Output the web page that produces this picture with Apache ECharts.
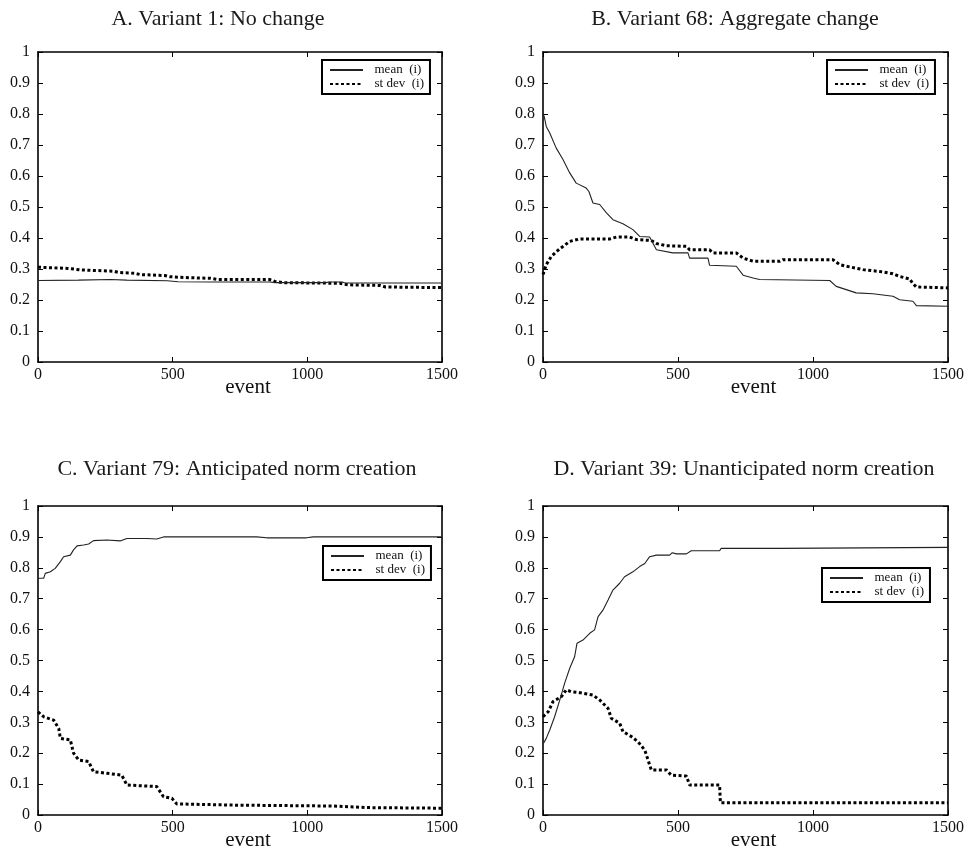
<!DOCTYPE html>
<html><head><meta charset="utf-8">
<script src="https://cdn.jsdelivr.net/npm/echarts@6/dist/echarts.min.js"></script>
<style>html,body{margin:0;padding:0;background:#fff}#c{width:972px;height:850px}</style>
</head><body><div id="c"></div>
<script>
const panelTitles = [
  'A. Variant 1: No change',
  'B. Variant 68: Aggregate change',
  'C. Variant 79: Anticipated norm creation',
  'D. Variant 39: Unanticipated norm creation'
];
const seriesNames = ['mean  (i)', 'st dev  (i)'];
const xAxisName = 'event';
const xMin = 0, xMax = 1500, xStep = 500;
const yMin = 0, yMax = 1, yStep = 0.1;

const aMean = [[0,0.263],[150,0.264],[270,0.266],[330,0.264],[480,0.262],[520,0.259],[640,0.258],[860,0.258],[880,0.256],[1070,0.256],[1080,0.258],[1130,0.258],[1140,0.255],[1500,0.255]];
const aStd = [[0,0.306],[20,0.305],[110,0.302],[160,0.297],[280,0.293],[300,0.289],[360,0.286],[380,0.282],[470,0.279],[490,0.275],[560,0.272],[640,0.27],[670,0.266],[860,0.266],[880,0.26],[910,0.256],[1120,0.254],[1150,0.249],[1270,0.247],[1290,0.242],[1500,0.24]];

const bMean = [[0,0.803],[5,0.79],[12,0.76],[25,0.739],[49,0.69],[74,0.653],[99,0.61],[123,0.577],[160,0.561],[170,0.55],[185,0.513],[210,0.508],[235,0.481],[259,0.459],[296,0.446],[333,0.427],[358,0.405],[395,0.403],[420,0.362],[481,0.352],[537,0.352],[543,0.335],[611,0.335],[617,0.312],[716,0.309],[741,0.28],[778,0.271],[802,0.266],[1062,0.263],[1086,0.244],[1160,0.223],[1222,0.22],[1296,0.212],[1321,0.201],[1370,0.196],[1383,0.182],[1500,0.18]];
const bStd = [[0,0.282],[12,0.314],[31,0.341],[62,0.365],[99,0.389],[136,0.397],[247,0.397],[272,0.403],[321,0.403],[346,0.395],[401,0.392],[420,0.382],[457,0.375],[531,0.373],[543,0.362],[617,0.362],[630,0.352],[716,0.352],[741,0.335],[778,0.325],[877,0.325],[889,0.33],[1074,0.33],[1099,0.314],[1123,0.309],[1185,0.298],[1247,0.292],[1296,0.285],[1321,0.276],[1358,0.268],[1370,0.253],[1383,0.242],[1500,0.239]];

const cMean = [[0,0.766],[21,0.766],[27,0.782],[46,0.787],[64,0.798],[83,0.82],[95,0.836],[120,0.841],[132,0.858],[145,0.871],[169,0.874],[188,0.877],[206,0.888],[256,0.89],[305,0.887],[330,0.895],[404,0.895],[441,0.893],[466,0.9],[503,0.9],[812,0.9],[849,0.897],[997,0.897],[1022,0.9],[1500,0.9]];
const cStd = [[0,0.334],[21,0.318],[58,0.307],[77,0.28],[83,0.248],[120,0.243],[132,0.2],[151,0.178],[188,0.173],[206,0.14],[256,0.135],[311,0.129],[330,0.097],[441,0.092],[466,0.059],[497,0.054],[515,0.036],[725,0.032],[1096,0.029],[1220,0.024],[1500,0.022]];

const dMean = [[2,0.232],[12,0.248],[25,0.275],[43,0.318],[62,0.372],[80,0.426],[99,0.475],[117,0.512],[126,0.556],[148,0.566],[173,0.588],[191,0.599],[204,0.642],[222,0.663],[241,0.696],[259,0.728],[284,0.75],[302,0.771],[333,0.787],[358,0.804],[377,0.814],[395,0.836],[420,0.841],[469,0.841],[479,0.849],[494,0.845],[531,0.845],[549,0.855],[654,0.855],[660,0.863],[877,0.863],[883,0.866],[1500,0.866]];
const dStd = [[0,0.318],[19,0.334],[37,0.367],[68,0.383],[86,0.405],[105,0.399],[136,0.396],[185,0.388],[210,0.372],[241,0.345],[253,0.313],[284,0.297],[296,0.27],[327,0.254],[352,0.237],[377,0.21],[389,0.178],[401,0.146],[457,0.146],[475,0.129],[531,0.126],[543,0.097],[654,0.097],[657,0.04],[1500,0.04]];

const panelData = [[aMean,aStd],[bMean,bStd],[cMean,cStd],[dMean,dStd]];

// layout (pixels)
const grids = [
  {left:38, top:52, width:404, height:310, outerBoundsMode:'none', containLabel:false},
  {left:543, top:52, width:405, height:310, outerBoundsMode:'none', containLabel:false},
  {left:38, top:506, width:404, height:309, outerBoundsMode:'none', containLabel:false},
  {left:543, top:506, width:405, height:309, outerBoundsMode:'none', containLabel:false}
];
const titlePos = [[218,19],[735,19],[237,469],[744,469]];
const legendPos = [[322,60],[827,60],[323,546],[822,568]];

const FF = 'Liberation Serif';
const ink = '#111';
const frame = {show:true, onZero:false, lineStyle:{color:'#000', width:1.6}};
const tick = {show:true, inside:true, length:5, lineStyle:{color:'#000', width:1}};

const xAxes = [], yAxes = [], series = [], legends = [], graphics = [];
grids.forEach((g, i) => {
  xAxes.push({type:'value', gridIndex:i, min:xMin, max:xMax, interval:xStep, position:'bottom',
    axisLine:frame, axisTick:tick, splitLine:{show:false},
    axisLabel:{fontFamily:FF, fontSize:16, color:ink, margin:5, formatter:v => String(v)},
    name:xAxisName, nameLocation:'middle', nameGap:15, nameMoveOverlap:false,
    nameTextStyle:{fontFamily:FF, fontSize:21, color:ink, padding:[0,0,0,16]}});
  xAxes.push({type:'value', gridIndex:i, min:xMin, max:xMax, interval:xStep, position:'top',
    axisLine:frame, axisTick:tick, splitLine:{show:false}, axisLabel:{show:false}});
  yAxes.push({type:'value', gridIndex:i, min:yMin, max:yMax, interval:yStep, position:'left',
    axisLine:frame, axisTick:tick, splitLine:{show:false},
    axisLabel:{fontFamily:FF, fontSize:16, color:ink, margin:8, formatter:v => String(+v.toFixed(1))}});
  yAxes.push({type:'value', gridIndex:i, min:yMin, max:yMax, interval:yStep, position:'right',
    axisLine:frame, axisTick:tick, splitLine:{show:false}, axisLabel:{show:false}});
  const [m, s] = panelData[i];
  series.push({name:seriesNames[0], type:'line', xAxisIndex:i*2, yAxisIndex:i*2, data:m, symbol:'none',
    lineStyle:{color:'#222', width:1.1, type:'solid'}, itemStyle:{color:'#222'}, z:3});
  series.push({name:seriesNames[1], type:'line', xAxisIndex:i*2, yAxisIndex:i*2, data:s, symbol:'none',
    lineStyle:{color:'#000', width:3, type:[3,2.5]}, itemStyle:{color:'#000'}, z:2});
  legends.push({data:seriesNames, left:legendPos[i][0], top:legendPos[i][1], orient:'vertical',
    itemWidth:33, itemHeight:10, itemGap:0, padding:[3,6,3,7], borderColor:'#000', borderWidth:2,
    backgroundColor:'#fff', selectedMode:false, formatter:n => '  ' + n,
    itemStyle:{opacity:0, color:'transparent', borderColor:'transparent', borderWidth:0},
    textStyle:{fontFamily:FF, fontSize:13, lineHeight:14, color:ink}});
  graphics.push({type:'text', x:titlePos[i][0], y:titlePos[i][1],
    style:{text:panelTitles[i], fontFamily:FF, fontSize:22, fill:'#1a1a1a', align:'center', verticalAlign:'middle'}});
});

const chart = echarts.init(document.getElementById('c'), null, {renderer:'canvas'});
chart.setOption({
  animation:false,
  backgroundColor:'#fff',
  grid:grids,
  xAxis:xAxes,
  yAxis:yAxes,
  legend:legends,
  series:series,
  graphic:graphics
});
</script></body></html>
